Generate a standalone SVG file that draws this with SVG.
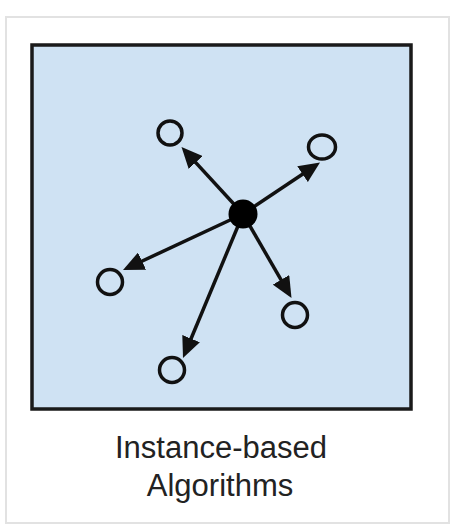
<svg xmlns="http://www.w3.org/2000/svg" width="452" height="532" viewBox="0 0 452 532">
  <style>
    .node { fill: none; stroke: #111; stroke-width: 3.5; }
    .edge { stroke: #111; stroke-width: 3.5; fill: none; marker-end: url(#arrow); }
    .label { font-family: "Liberation Sans", Arial, sans-serif; font-size: 31px; fill: #222; text-anchor: middle; }
  </style>
  <defs>
    <marker id="arrow" viewBox="0 0 21 19" refX="8" refY="9.5" markerWidth="21" markerHeight="19" markerUnits="userSpaceOnUse" orient="auto">
      <path d="M0,0 L21,9.5 L0,19 z" fill="#111"/>
    </marker>
  </defs>
  <rect x="0" y="0" width="452" height="532" fill="#ffffff"/>
  <rect id="frame" x="6" y="17" width="443" height="506" fill="#ffffff" stroke="#e2e2e2" stroke-width="2"/>
  <rect id="panel" x="32" y="45" width="379" height="364" fill="#cfe2f3" stroke="#1a1a1a" stroke-width="3.5"/>
  <g id="connectors">
    <line class="edge" x1="243" y1="214" x2="190.3" y2="156.6"/>
    <line class="edge" x1="243" y1="214" x2="309.2" y2="169.7"/>
    <line class="edge" x1="243" y1="214" x2="134.8" y2="264.5"/>
    <line class="edge" x1="243" y1="214" x2="188.0" y2="346.0"/>
    <line class="edge" x1="243" y1="214" x2="285.0" y2="286.7"/>
  </g>
  <g id="center-node"><circle cx="243" cy="214" r="14.5" fill="#000"/></g>
  <g id="node-top-left"><circle class="node" cx="170" cy="133" r="12"/></g>
  <g id="node-top-right"><ellipse class="node" cx="322" cy="147" rx="13.5" ry="12"/></g>
  <g id="node-left"><circle class="node" cx="110" cy="282" r="12.5"/></g>
  <g id="node-bottom"><circle class="node" cx="172" cy="370" r="12.5"/></g>
  <g id="node-right"><circle class="node" cx="295" cy="315" r="12.5"/></g>
  <g id="caption">
    <text class="label" x="221" y="458">Instance-based</text>
    <text class="label" x="220" y="496">Algorithms</text>
  </g>
</svg>
